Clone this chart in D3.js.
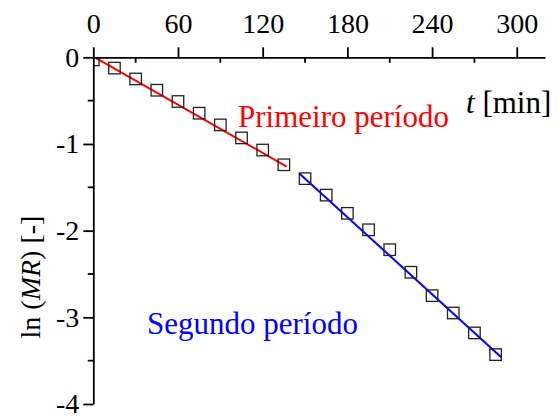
<!DOCTYPE html>
<html>
<head>
<meta charset="utf-8">
<script src="https://cdn.jsdelivr.net/npm/d3@7"></script>
<style>
  body { margin: 0; background: #fff; }
  text { font-family: "Liberation Serif", "Times New Roman", serif; }
</style>
</head>
<body>
<svg id="mainsvg" width="558" height="416"></svg>
<script>
// data
const timeMin = [0, 15, 30, 45, 60, 75, 90, 105, 120, 135,
                 150, 165, 180, 195, 210, 225, 240, 255, 270, 285];
const lnMR = [-0.03, -0.125, -0.25, -0.38, -0.51, -0.645, -0.78, -0.93, -1.07, -1.24,
              -1.40, -1.59, -1.80, -1.99, -2.22, -2.48, -2.75, -2.95, -3.18, -3.43];
const fit1 = [[2, -0.01], [137, -1.26]];   // primeiro período
const fit2 = [[146, -1.34], [289, -3.46]]; // segundo período
const xTicks = [0, 60, 120, 180, 240, 300];
const xMinor = [30, 90, 150, 210, 270];
const yTicks = [0, -1, -2, -3, -4];
const yMinor = [-0.5, -1.5, -2.5, -3.5];

const svg = d3.select('#mainsvg');
const x = d3.scaleLinear().domain([0, 320]).range([93.3, 545]);
const y = d3.scaleLinear().domain([0, -4]).range([57.3, 404]);
const fs = 28;   // tick labels
const fsL = 31;  // other labels

// clip so markers stay inside plot
svg.append('clipPath').attr('id', 'clip')
  .append('rect')
  .attr('x', x(0)).attr('y', y(0))
  .attr('width', x(320) - x(0)).attr('height', y(-4) - y(0));

const plot = svg.append('g').attr('clip-path', 'url(#clip)');

// fit lines
const line = d3.line().x(d => x(d[0])).y(d => y(d[1]));
plot.append('path').datum(fit1).attr('d', line)
  .attr('stroke', '#ff0000').attr('stroke-width', 2).attr('fill', 'none');
plot.append('path').datum(fit2).attr('d', line)
  .attr('stroke', '#0000ff').attr('stroke-width', 2).attr('fill', 'none');

// square markers
const s = 11.5;
plot.selectAll('rect.pt').data(timeMin).enter().append('rect')
  .attr('class', 'pt')
  .attr('x', (d, i) => x(d) - s / 2)
  .attr('y', (d, i) => y(lnMR[i]) - s / 2)
  .attr('width', s).attr('height', s)
  .attr('fill', 'none').attr('stroke', '#222').attr('stroke-width', 1.3);

// top x axis: major ticks outward, minor ticks inward
const xAxis = d3.axisTop(x).tickValues(xTicks).tickSize(10).tickPadding(14).tickSizeOuter(0);
const gx = svg.append('g').attr('transform', `translate(0,${y(0)})`).call(xAxis);
gx.select('.domain').attr('stroke-width', 1.8);
gx.selectAll('.tick line').attr('stroke-width', 1.8);
gx.selectAll('.tick text').attr('font-size', fs).attr('fill', '#000');
gx.selectAll('.minor').data(xMinor).enter().append('line')
  .attr('class', 'minor')
  .attr('x1', d => x(d)).attr('x2', d => x(d))
  .attr('y1', 0).attr('y2', 5.5)
  .attr('stroke', '#000').attr('stroke-width', 1.8);

// left y axis
const yAxis = d3.axisLeft(y).tickValues(yTicks).tickSize(10).tickPadding(4).tickSizeOuter(0);
const gy = svg.append('g').attr('transform', `translate(${x(0)},0)`).call(yAxis);
gy.select('.domain').attr('stroke-width', 1.8);
gy.selectAll('.tick line').attr('stroke-width', 1.8);
gy.selectAll('.tick text').attr('font-size', fs).attr('fill', '#000')
  .text(d => d === 0 ? '0' : '-' + Math.abs(d));
gy.selectAll('.minor').data(yMinor).enter().append('line')
  .attr('class', 'minor')
  .attr('x1', -5.5).attr('x2', 0)
  .attr('y1', d => y(d)).attr('y2', d => y(d))
  .attr('stroke', '#000').attr('stroke-width', 1.8);

// axis titles
const tl = svg.append('text').attr('x', 466).attr('y', 113).attr('font-size', fsL).attr('fill', '#000');
tl.append('tspan').attr('font-style', 'italic').text('t');
tl.append('tspan').text(' [min]');

const yl = svg.append('text')
  .attr('transform', 'translate(40,277) rotate(-90)')
  .attr('text-anchor', 'middle').attr('font-size', fs).attr('fill', '#000');
yl.append('tspan').text('ln (');
yl.append('tspan').attr('font-style', 'italic').text('MR');
yl.append('tspan').text(') [-]');

// period labels
svg.append('text').attr('x', 238).attr('y', 127).attr('font-size', fsL)
  .attr('fill', '#ff0000').text('Primeiro período');
svg.append('text').attr('x', 147).attr('y', 334).attr('font-size', fsL)
  .attr('fill', '#0000ff').text('Segundo período');
</script>
</body>
</html>
